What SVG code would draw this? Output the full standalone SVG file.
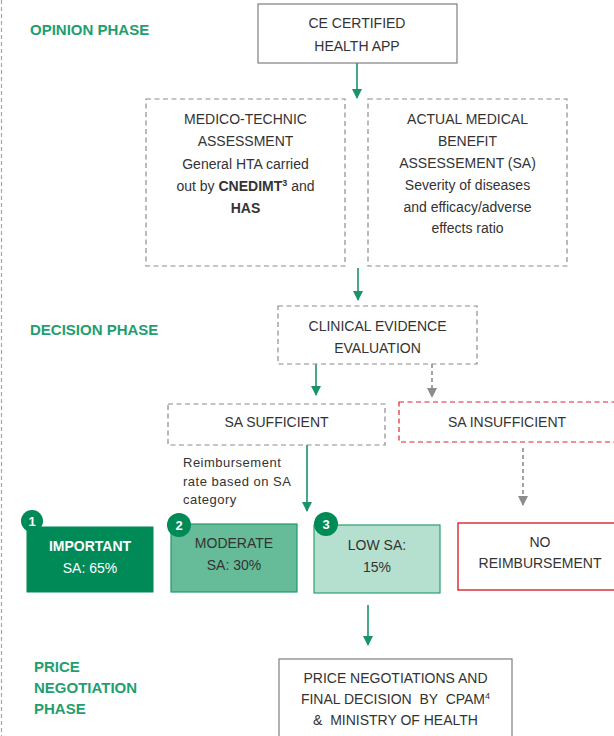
<svg xmlns="http://www.w3.org/2000/svg" width="614" height="736" viewBox="0 0 614 736">
<defs>
<style>
.t{font-family:"Liberation Sans",Arial,sans-serif;font-size:14px;fill:#333;text-anchor:middle}
.ph{font-family:"Liberation Sans",Arial,sans-serif;font-size:15px;font-weight:bold;fill:#1f9e70}
.box{fill:#fff;stroke:#7f7f7f;stroke-width:1.2}
.dash{fill:#fff;stroke:#8c8c8c;stroke-width:1.2;stroke-dasharray:5,3.5}
.g{stroke:#1a9368;stroke-width:1.6;fill:none}
.gr{stroke:#8c8c8c;stroke-width:1.6;fill:none;stroke-dasharray:4,3}
.badge{fill:#008a58}
.bt{font-family:"Liberation Sans",Arial,sans-serif;font-size:13px;font-weight:bold;fill:#fff;text-anchor:middle}
.note{font-family:"Liberation Sans",Arial,sans-serif;font-size:13px;fill:#333;letter-spacing:0.5px}
</style>
<marker id="ag" viewBox="0 0 10 10" refX="9" refY="5" markerWidth="10" markerHeight="10" markerUnits="userSpaceOnUse" orient="auto"><path d="M0,0L10,5L0,10z" fill="#1a9368"/></marker>
<marker id="agr" viewBox="0 0 10 10" refX="9" refY="5" markerWidth="10" markerHeight="10" markerUnits="userSpaceOnUse" orient="auto"><path d="M0,0L10,5L0,10z" fill="#8c8c8c"/></marker>
</defs>
<rect width="614" height="736" fill="#fff"/>
<line x1="1.5" y1="0" x2="1.5" y2="736" stroke="#a6a6a6" stroke-width="1.2" stroke-dasharray="4,3"/>
<g id="phases">
<text class="ph" x="30" y="35">OPINION PHASE</text>
<text class="ph" x="30" y="335">DECISION PHASE</text>
<text class="ph" x="34" y="672">PRICE</text>
<text class="ph" x="34" y="693">NEGOTIATION</text>
<text class="ph" x="34" y="714">PHASE</text>
</g>
<g id="connectors">
<line class="g" x1="357" y1="63" x2="357" y2="98" marker-end="url(#ag)"/>
<line class="g" x1="358" y1="268" x2="358" y2="300" marker-end="url(#ag)"/>
<line class="g" x1="316" y1="364" x2="316" y2="395" marker-end="url(#ag)"/>
<line class="gr" x1="432" y1="364" x2="432" y2="397" marker-end="url(#agr)"/>
<line class="g" x1="307" y1="445" x2="307" y2="511" marker-end="url(#ag)"/>
<line class="gr" x1="523" y1="448" x2="523" y2="505" marker-end="url(#agr)"/>
<line class="g" x1="368" y1="605" x2="368" y2="645" marker-end="url(#ag)"/>
</g>
<g id="ce-app">
<rect class="box" x="258" y="4" width="199" height="59"/>
<text class="t" x="357" y="28">CE CERTIFIED</text>
<text class="t" x="357" y="51">HEALTH APP</text>
</g>
<g id="medico">
<rect class="dash" x="146" y="99" width="199" height="167"/>
<text class="t" x="245.5" y="123.5">MEDICO-TECHNIC</text>
<text class="t" x="245.5" y="146">ASSESSMENT</text>
<text class="t" x="245.5" y="168.5">General HTA carried</text>
<text class="t" x="245.5" y="191">out by <tspan font-weight="bold">CNEDIMT</tspan><tspan font-weight="bold" font-size="9" dy="-5">3</tspan><tspan dy="5"> and</tspan></text>
<text class="t" x="245.5" y="213" font-weight="bold">HAS</text>
</g>
<g id="actual">
<rect class="dash" x="368" y="99" width="199" height="167"/>
<text class="t" x="467.5" y="124">ACTUAL MEDICAL</text>
<text class="t" x="467.5" y="146">BENEFIT</text>
<text class="t" x="467.5" y="168">ASSESSEMENT (SA)</text>
<text class="t" x="467.5" y="190">Severity of diseases</text>
<text class="t" x="467.5" y="212">and efficacy/adverse</text>
<text class="t" x="467.5" y="233">effects ratio</text>
</g>
<g id="clinical">
<rect class="dash" x="278" y="306" width="199" height="58"/>
<text class="t" x="377.5" y="331">CLINICAL EVIDENCE</text>
<text class="t" x="377.5" y="353">EVALUATION</text>
</g>
<g id="sa-sufficient">
<rect class="dash" x="168" y="404" width="217" height="41"/>
<text class="t" x="276.5" y="427">SA SUFFICIENT</text>
</g>
<g id="sa-insufficient">
<rect x="399" y="402" width="230" height="40" fill="#fff" stroke="#d9262b" stroke-width="1.2" stroke-dasharray="5,3.5"/>
<text class="t" x="507" y="427">SA INSUFFICIENT</text>
</g>
<g id="note">
<text class="note" x="183" y="467">Reimbursement</text>
<text class="note" x="183" y="486">rate based on SA</text>
<text class="note" x="183" y="504">category</text>
</g>
<g id="important">
<rect x="27" y="527" width="126" height="65" fill="#008a58" stroke="#008a58"/>
<circle class="badge" cx="32" cy="521" r="11"/>
<text class="bt" x="32" y="526">1</text>
<text class="t" x="90" y="551" style="fill:#fff;font-weight:bold">IMPORTANT</text>
<text class="t" x="90" y="573" style="fill:#fff">SA: 65%</text>
</g>
<g id="moderate">
<rect x="171" y="524" width="126" height="68" fill="#66bb98" stroke="#1f9a68" stroke-width="1.2"/>
<circle class="badge" cx="179" cy="525" r="12"/>
<text class="bt" x="179" y="530">2</text>
<text class="t" x="234" y="548">MODERATE</text>
<text class="t" x="234" y="570">SA: 30%</text>
</g>
<g id="low">
<rect x="314" y="525" width="126" height="68" fill="#b5e0cf" stroke="#2a9e70" stroke-width="1.2"/>
<circle class="badge" cx="326" cy="524" r="12"/>
<text class="bt" x="326" y="529">3</text>
<text class="t" x="377" y="550">LOW SA:</text>
<text class="t" x="377" y="572">15%</text>
</g>
<g id="no-reimb">
<rect x="458" y="523" width="160" height="67" fill="#fff" stroke="#d9262b" stroke-width="1.4"/>
<text class="t" x="540" y="547">NO</text>
<text class="t" x="540" y="568">REIMBURSEMENT</text>
</g>
<g id="price">
<rect class="box" x="279" y="659" width="233" height="90"/>
<text class="t" x="395.5" y="683">PRICE NEGOTIATIONS AND</text>
<text class="t" x="395.5" y="704" xml:space="preserve">FINAL DECISION  BY  CPAM<tspan font-size="9" dy="-5">4</tspan></text>
<text class="t" x="395.5" y="725" xml:space="preserve">&amp;  MINISTRY OF HEALTH</text>
</g>
</svg>
